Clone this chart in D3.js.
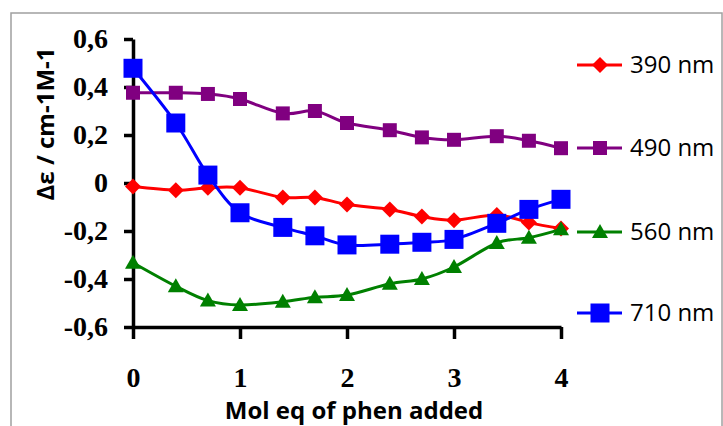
<!DOCTYPE html>
<html>
<head>
<meta charset="utf-8">
<script src="https://cdn.jsdelivr.net/npm/d3@7"></script>
<style>
  html, body { margin: 0; padding: 0; background: #fff; }
  svg { display: block; }
</style>
</head>
<body>
<svg id="chart" width="723" height="426"></svg>
<script>
// x values (mol eq of phen added)
const molEq = [0, 0.4, 0.7, 1, 1.4, 1.7, 2, 2.4, 2.7, 3, 3.4, 3.7, 4];

// Δε values per wavelength
const nm390 = [-0.015, -0.03, -0.02, -0.02, -0.06, -0.06, -0.09, -0.11, -0.14, -0.155, -0.133, -0.165, -0.19];
const nm490 = [0.376, 0.376, 0.371, 0.35, 0.29, 0.30, 0.25, 0.22, 0.19, 0.18, 0.195, 0.176, 0.145];
const nm560 = [-0.332, -0.43, -0.49, -0.508, -0.495, -0.476, -0.467, -0.42, -0.40, -0.35, -0.25, -0.228, -0.193];
const nm710 = [0.478, 0.25, 0.033, -0.124, -0.185, -0.22, -0.258, -0.255, -0.247, -0.235, -0.168, -0.11, -0.068];

const seriesNames = ['390 nm', '490 nm', '560 nm', '710 nm'];
const xTicks = [0, 1, 2, 3, 4];
const yTicks = [-0.6, -0.4, -0.2, 0, 0.2, 0.4, 0.6];

const series = [
  { name: seriesNames[0], values: nm390, color: '#ff0000', shape: 'diamond', size: 16 },
  { name: seriesNames[1], values: nm490, color: '#800080', shape: 'square', size: 14 },
  { name: seriesNames[2], values: nm560, color: '#008000', shape: 'triangle', size: 16 },
  { name: seriesNames[3], values: nm710, color: '#0000ff', shape: 'square', size: 19 }
];

const svg = d3.select('#chart');

// outer chart border
svg.append('rect')
  .attr('x', 11).attr('y', 13)
  .attr('width', 711).attr('height', 430)
  .attr('fill', 'none')
  .attr('stroke', '#a0a0a0')
  .attr('stroke-width', 1.5);

const x = d3.scaleLinear().domain([0, 4]).range([133, 561]);
const y = d3.scaleLinear().domain([-0.6, 0.6]).range([327, 39]);

// comma decimals, plain hyphen for the minus sign
const fmt = d => d === 0 ? '0' : (d < 0 ? '-' : '') + Math.abs(d).toFixed(1).replace('.', ',');

// y axis
const yAxis = svg.append('g')
  .attr('transform', `translate(${x(0)},0)`)
  .call(d3.axisLeft(y).tickValues(yTicks).tickSize(9).tickSizeOuter(0).tickPadding(16).tickFormat(fmt));

// x axis
const xAxis = svg.append('g')
  .attr('transform', `translate(0,${y(-0.6)})`)
  .call(d3.axisBottom(x).tickValues(xTicks).tickSize(12).tickSizeOuter(0).tickPadding(28).tickFormat(d3.format('d')));

[yAxis, xAxis].forEach(g => {
  g.select('.domain').attr('stroke', '#000').attr('stroke-width', 3.5);
  g.selectAll('.tick line').attr('stroke', '#000').attr('stroke-width', 3.5);
  g.selectAll('.tick text')
    .attr('fill', '#000')
    .style('font-family', '"Liberation Serif", "Times New Roman", serif')
    .style('font-weight', 'bold')
    .style('font-size', '28px');
});

// axis titles
svg.append('text')
  .attr('x', 354).attr('y', 419)
  .attr('text-anchor', 'middle')
  .style('font-family', '"Open Sans", sans-serif')
  .style('font-weight', 'bold')
  .style('font-size', '24px')
  .text('Mol eq of phen added');

svg.append('text')
  .attr('transform', 'translate(54,124) rotate(-90)')
  .attr('text-anchor', 'middle')
  .style('font-family', '"Open Sans", sans-serif')
  .style('font-weight', 'bold')
  .style('font-size', '24px')
  .text('Δε / cm-1M-1');

// marker symbols
const symbolFor = s => {
  const h = s.size / 2;
  if (s.shape === 'diamond') return `M0,${-h}L${h},0L0,${h}L${-h},0Z`;
  if (s.shape === 'triangle') return `M0,${-h}L${h},${h * 0.75}L${-h},${h * 0.75}Z`;
  return `M${-h},${-h}H${h}V${h}H${-h}Z`;
};

const line = d3.line()
  .x((d, i) => x(molEq[i]))
  .y(d => y(d))
  .curve(d3.curveCatmullRom.alpha(0));

// series lines and markers
series.forEach(s => {
  const g = svg.append('g');
  g.append('path')
    .attr('d', line(s.values))
    .attr('fill', 'none')
    .attr('stroke', s.color)
    .attr('stroke-width', 3);
  g.selectAll('path.mk')
    .data(s.values)
    .join('path')
    .attr('class', 'mk')
    .attr('transform', (d, i) => `translate(${x(molEq[i])},${y(d)})`)
    .attr('d', symbolFor(s))
    .attr('fill', s.color);
});

// legend
const legendY = [65, 148, 232, 313];
const legend = svg.append('g');
series.forEach((s, i) => {
  const g = legend.append('g').attr('transform', `translate(0,${legendY[i]})`);
  g.append('line')
    .attr('x1', 577).attr('x2', 622)
    .attr('stroke', s.color).attr('stroke-width', 3);
  g.append('path')
    .attr('transform', 'translate(600,0)')
    .attr('d', symbolFor(s))
    .attr('fill', s.color);
  g.append('text')
    .attr('x', 630).attr('y', 0)
    .attr('dy', '0.35em')
    .style('font-family', '"Open Sans", sans-serif')
    .style('font-size', '24px')
    .attr('fill', '#000')
    .text(s.name);
});
</script>
</body>
</html>
